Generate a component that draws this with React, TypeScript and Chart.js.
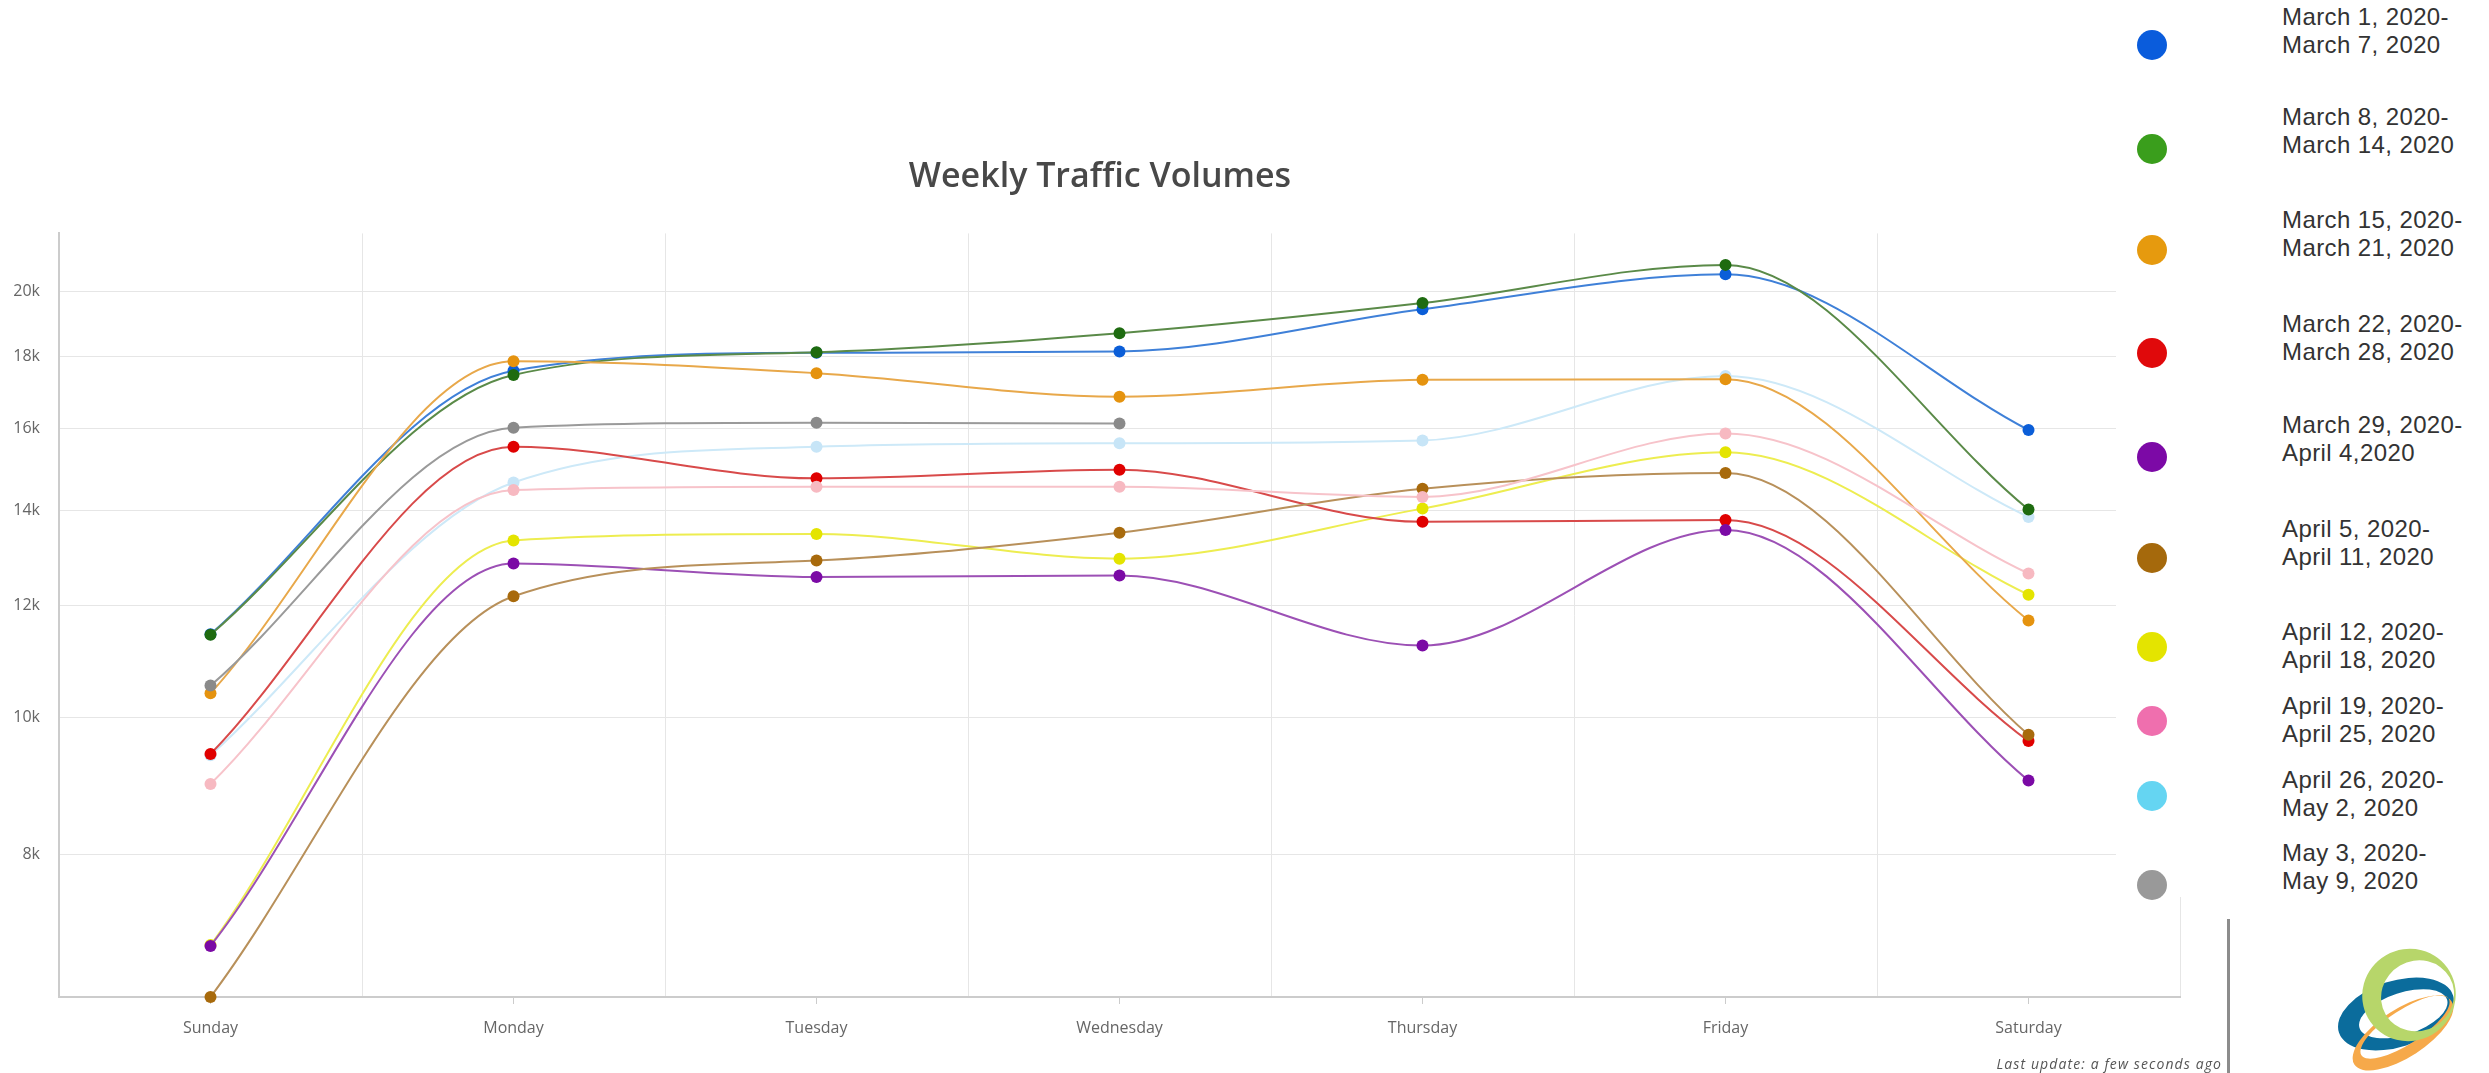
import React, { useEffect, useRef } from "react";
import { Chart, registerables } from "chart.js";

Chart.register(...registerables);

// ---------- data ----------
const days = ["Sunday", "Monday", "Tuesday", "Wednesday", "Thursday", "Friday", "Saturday"];

const weekLabels: string[][] = [
  ["March 1, 2020-", "March 7, 2020"],
  ["March 8, 2020-", "March 14, 2020"],
  ["March 15, 2020-", "March 21, 2020"],
  ["March 22, 2020-", "March 28, 2020"],
  ["March 29, 2020-", "April 4,2020"],
  ["April 5, 2020-", "April 11, 2020"],
  ["April 12, 2020-", "April 18, 2020"],
  ["April 19, 2020-", "April 25, 2020"],
  ["April 26, 2020-", "May 2, 2020"],
  ["May 3, 2020-", "May 9, 2020"],
];

const march1to7 = [11450, 17590, 18110, 18150, 19440, 20580, 15970];
const march8to14 = [11440, 17470, 18130, 18700, 19640, 20900, 14030];
const march15to21 = [10400, 17860, 17520, 16860, 17330, 17350, 11710];
const march22to28 = [9420, 15540, 14760, 14970, 13750, 13790, 9620];
const march29toApr4 = [6890, 12850, 12570, 12600, 11240, 13570, 9020];
const april5to11 = [6340, 12180, 12910, 13510, 14510, 14890, 9720];
const april12to18 = [6900, 13340, 13480, 12950, 14050, 15400, 12210];
const april19to25 = [8970, 14480, 14560, 14560, 14320, 15880, 12640];
const april26toMay2 = [9400, 14660, 15540, 15630, 15700, 17440, 13860];
const may3to9 = [10530, 16030, 16160, 16140, null, null, null];

const series = [
  march1to7,
  march8to14,
  march15to21,
  march22to28,
  march29toApr4,
  april5to11,
  april12to18,
  april19to25,
  april26toMay2,
  may3to9,
];

const yTickValues = [8000, 10000, 12000, 14000, 16000, 18000, 20000];

// ---------- styles ----------
const pointColors = [
  "#0b5ed8", "#1e6b10", "#e5930f", "#e00000", "#7b0aa5",
  "#a86a0c", "#e4e400", "#f7b9c1", "#c7e5f7", "#8a8a8a",
];
const lineColors = [
  "#3f80d8", "#5a8a48", "#e8a84a", "#d84a4a", "#9c50b5",
  "#b8905a", "#eded50", "#f7c3ca", "#cde9f8", "#9a9a9a",
];
const legendColors = [
  "#0a5cdc", "#3a9e1c", "#e69a0e", "#e0090b", "#7c09a6",
  "#a5690c", "#e4e400", "#ef6fae", "#65d5f2", "#999999",
];
// drawing order (lower = drawn on top)
const drawOrder = [8, 7, 6, 5, 4, 3, 9, 2, 10, 1];
const legendDotY = [45, 149, 250, 353, 457, 558, 647, 721, 796, 885];
const legendTextY = [17, 117, 220, 324, 425, 529, 632, 706, 780, 853];

function ellipsePath(cx: number, cy: number, rx: number, ry: number) {
  return `M ${cx - rx} ${cy} a ${rx} ${ry} 0 1 0 ${2 * rx} 0 a ${rx} ${ry} 0 1 0 ${-2 * rx} 0 Z`;
}

function Logo() {
  return (
    <svg
      width={125}
      height={130}
      style={{ position: "absolute", left: 2337, top: 945, overflow: "visible" }}
    >
      <path
        fillRule="evenodd"
        fill="#0b6c9c"
        transform="rotate(-18 59 69)"
        d={ellipsePath(59, 69, 60, 33) + " " + ellipsePath(66, 71, 46, 21)}
      />
      <path
        fillRule="evenodd"
        fill="#f6a94a"
        transform="rotate(-33 66 88)"
        d={ellipsePath(66, 88, 58, 24) + " " + ellipsePath(71, 84, 52, 17)}
      />
      <path
        fillRule="evenodd"
        fill="#b7d66a"
        transform="rotate(-30 72 50)"
        d={ellipsePath(72, 50, 47, 46) + " " + ellipsePath(79, 55, 37, 35)}
      />
    </svg>
  );
}

export default function App() {
  const canvasRef = useRef<HTMLCanvasElement | null>(null);

  useEffect(() => {
    const canvas = canvasRef.current;
    if (!canvas) return;
    const tickFont = { family: "'Open Sans', sans-serif", size: 16 };
    const chart = new Chart(canvas, {
      type: "line",
      data: {
        labels: days,
        datasets: series.map((s, i) => ({
          label: weekLabels[i].join(" "),
          data: s,
          borderColor: lineColors[i],
          backgroundColor: pointColors[i],
          pointBackgroundColor: pointColors[i],
          pointBorderColor: pointColors[i],
          pointBorderWidth: 0,
          pointRadius: 6,
          borderWidth: 2,
          cubicInterpolationMode: "monotone" as const,
          fill: false,
          spanGaps: false,
          clip: false as any,
          order: drawOrder[i],
        })),
      },
      options: {
        responsive: false,
        animation: false,
        devicePixelRatio: 1,
        layout: { padding: { left: 0, right: 0, top: 0, bottom: 0 } },
        plugins: {
          legend: { display: false },
          tooltip: { enabled: false },
          title: {
            display: true,
            text: "Weekly Traffic Volumes",
            color: "#484848",
            font: { family: "'Open Sans', sans-serif", size: 34, weight: "600", lineHeight: 1.2 },
            padding: { top: 156.6, bottom: 36 },
          },
        },
        scales: {
          x: {
            type: "category",
            position: "bottom",
            weight: 1,
            offset: true,
            grid: { offset: true, color: "#e6e6e6", lineWidth: 1, drawTicks: false },
            border: { display: false },
            ticks: {
              padding: 15,
              color: "#666666",
              font: tickFont,
              maxRotation: 0,
              autoSkip: false,
            },
            afterFit: (s: any) => {
              s.height = 69;
            },
          },
          x2: {
            type: "category",
            position: "bottom",
            weight: 0,
            offset: true,
            grid: {
              offset: false,
              drawOnChartArea: false,
              drawTicks: true,
              tickLength: 7,
              color: "#cccccc",
              lineWidth: 1,
            },
            border: { display: true, color: "#cccccc", width: 2 },
            ticks: { display: false },
            afterFit: (s: any) => {
              s.height = 7;
            },
          },
          y: {
            type: "logarithmic",
            position: "left",
            min: 6340,
            max: 22000,
            afterBuildTicks: (scale: any) => {
              scale.ticks = yTickValues.map((v) => ({ value: v }));
            },
            afterFit: (s: any) => {
              s.width = 59;
            },
            grid: { color: "#e6e6e6", lineWidth: 1, drawTicks: false },
            border: { display: true, color: "#cccccc", width: 2 },
            ticks: {
              padding: 19,
              color: "#666666",
              font: tickFont,
              autoSkip: false,
              callback: (v: any) => `${Number(v) / 1000}k`,
            },
          },
          yRightSpacer: {
            type: "linear",
            position: "right",
            display: true,
            grid: { display: false, drawTicks: false },
            border: { display: false },
            ticks: { display: false },
            afterFit: (s: any) => {
              s.width = 20;
            },
          },
        } as any,
      },
    });
    return () => chart.destroy();
  }, []);

  return (
    <div
      style={{
        position: "absolute",
        left: 0,
        top: 0,
        width: 2489,
        height: 1073,
        background: "#ffffff",
        overflow: "hidden",
      }}
    >
      <canvas
        ref={canvasRef}
        width={2200}
        height={1073}
        style={{ position: "absolute", left: 0, top: 0, width: 2200, height: 1073 }}
      />
      <div
        style={{
          position: "absolute",
          left: 2116,
          top: 0,
          width: 373,
          height: 897,
          background: "#ffffff",
        }}
      >
        {weekLabels.map((lines, i) => (
          <React.Fragment key={i}>
            <div
              style={{
                position: "absolute",
                left: 2152 - 2116 - 15,
                top: legendDotY[i] - 15,
                width: 30,
                height: 30,
                borderRadius: "50%",
                background: legendColors[i],
              }}
            />
            <div
              style={{
                position: "absolute",
                left: 2282 - 2116,
                top: legendTextY[i] - 14,
                fontFamily: "'Liberation Sans', Arial, sans-serif",
                fontSize: 24,
                letterSpacing: 0.4,
                lineHeight: "28px",
                color: "#333333",
                whiteSpace: "nowrap",
              }}
            >
              {lines[0]}
              <br />
              {lines[1]}
            </div>
          </React.Fragment>
        ))}
      </div>
      <div
        style={{
          position: "absolute",
          left: 2227,
          top: 919,
          width: 3,
          height: 154,
          background: "#8c8c8c",
        }}
      />
      <div
        style={{
          position: "absolute",
          left: 1900,
          width: 322,
          top: 1056,
          textAlign: "right",
          fontFamily: "'Open Sans', sans-serif",
          fontStyle: "italic",
          fontSize: 14,
          letterSpacing: 1.1,
          lineHeight: "16px",
          color: "#555555",
          whiteSpace: "nowrap",
        }}
      >
        Last update: a few seconds ago
      </div>
      <Logo />
    </div>
  );
}
